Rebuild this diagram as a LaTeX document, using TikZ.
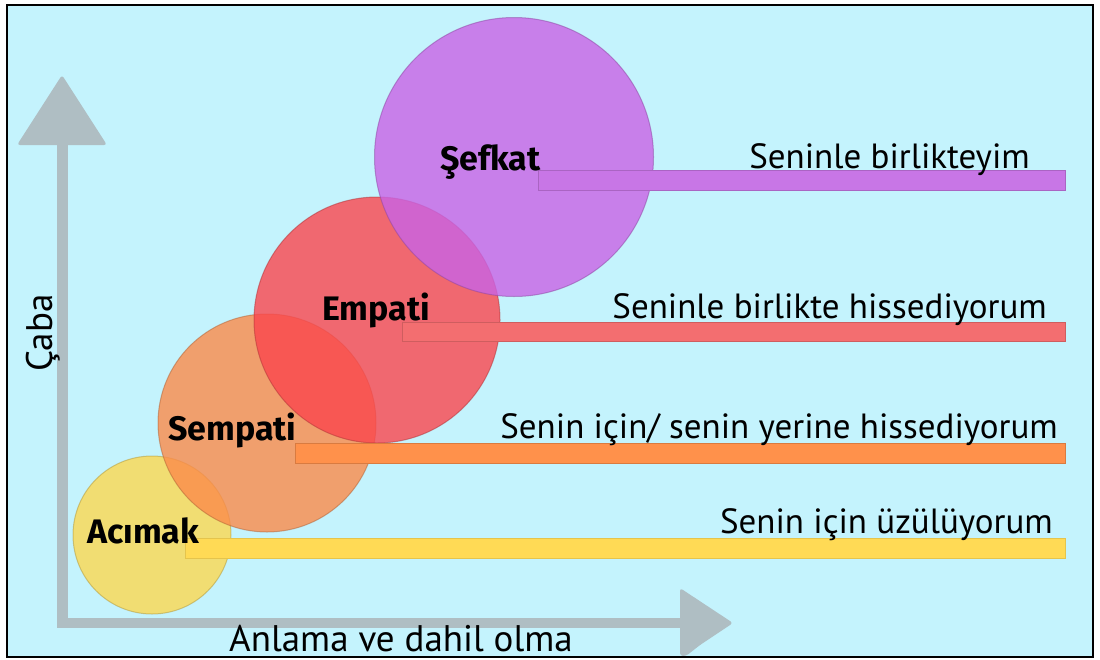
\documentclass[tikz,border=0pt]{standalone}
\usepackage{fontspec}
\setmainfont{PT Sans}
\newfontfamily\lblfont{Fira Sans}
\definecolor{bgblue}{RGB}{196,243,253}
\definecolor{axgray}{RGB}{175,190,195}
\definecolor{cpur}{RGB}{201,99,230}
\definecolor{cred}{RGB}{251,70,77}
\definecolor{corg}{RGB}{251,139,74}
\definecolor{cyel}{RGB}{253,216,80}
\definecolor{bpur}{RGB}{200,118,230}
\definecolor{bred}{RGB}{243,110,112}
\definecolor{borg}{RGB}{255,145,75}
\definecolor{byel}{RGB}{255,218,85}
\begin{document}
\begin{tikzpicture}[x=1pt,y=-1pt,
  bub/.style={circle, inner sep=0pt, fill opacity=0.8, draw opacity=0.5, line width=1pt},
  bar/.style={line width=0.6pt},
  rtext/.style={anchor=base east, inner sep=0pt, font=\fontsize{35}{40}\selectfont, text=black},
  lbl/.style={anchor=base west, inner sep=0pt, font=\lblfont\bfseries\fontsize{34}{38}\selectfont, text=black},
  axtext/.style={inner sep=0pt, font=\fontsize{37}{40}\selectfont, text=black}
]
\useasboundingbox (0,0) rectangle (1100,659);
\fill[white] (0,0) rectangle (1100,659);
\fill[bgblue] (7,5) rectangle (1093,657);
% axes
\coordinate (O) at (62,623);
\coordinate (Y) at (62,145);
\coordinate (X) at (680,623);
\draw[axgray, line width=11pt] (62,627) -- (Y);
\draw[axgray, line width=10pt] (57,623) -- (X);
\fill[axgray, rounded corners=3pt] (17,145) -- (62,75) -- (107,145) -- cycle;
\fill[axgray, rounded corners=3pt] (680,656) -- (680,588) -- (733,623) -- (700,645) -- (686,656) -- cycle;
% bubbles
\node[bub, fill=cyel, draw=cyel!70!black, minimum size=158pt] (acimak) at (152,535) {};
\node[bub, fill=corg, draw=corg!70!black, minimum size=218pt] (sempati) at (267,423) {};
\node[bub, fill=cred, draw=cred!70!black, minimum size=246pt] (empati) at (377,320) {};
\node[bub, fill=cpur, draw=cpur!70!black, minimum size=279pt] (sefkat) at (514,157) {};
% bars
\filldraw[bar, fill=bpur, draw=bpur!85!black] (538,170) rectangle (1065,190);
\filldraw[bar, fill=bred, draw=bred!85!black] (402,322) rectangle (1065,341);
\filldraw[bar, fill=borg, draw=borg!85!black] (295,443) rectangle (1065,463);
\filldraw[bar, fill=byel, draw=byel!90!black] (185,538) rectangle (1065,558);
% right texts
\node[rtext] (t1) at (1030,168) {Seninle birlikteyim};
\node[rtext] (t2) at (1047,318) {Seninle birlikte hissediyorum};
\node[rtext] (t3) at (1058,438) {Senin için/ senin yerine hissediyorum};
\node[rtext] (t4) at (1053,533) {Senin için üzülüyorum};
% labels
\node[lbl] (l1) at (440,170) {Şefkat};
\node[lbl] (l2) at (322,320) {Empati};
\node[lbl] (l3) at (168,440) {Sempati};
\node[lbl] (l4) at (87,543) {Acımak};
% axis labels
\node[axtext, anchor=base west] (xl) at (229,651) {Anlama ve dahil olma};
\node[axtext, anchor=base west, rotate=90] (yl) at (52,372) {Çaba};
% frame
\draw[black, line width=1.6pt] (7,5) rectangle (1093,657);
\end{tikzpicture}
\end{document}
